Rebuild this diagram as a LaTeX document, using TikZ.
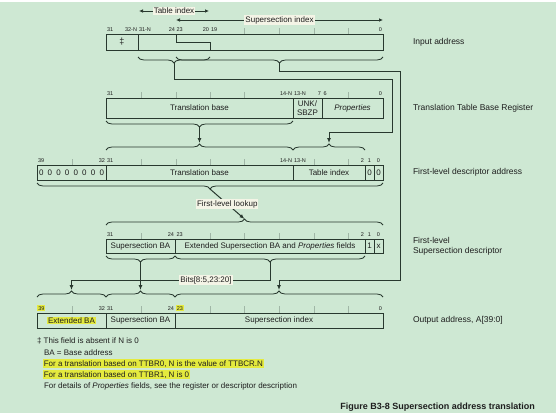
\documentclass[tikz,border=0pt]{standalone}
\usepackage{fontspec}
\setmainfont{Liberation Sans}
\usetikzlibrary{positioning,arrows.meta,decorations.pathreplacing}
\definecolor{bggreen}{RGB}{206,232,211}
\definecolor{linec}{RGB}{40,56,46}
\definecolor{tickc}{RGB}{160,182,166}
\definecolor{hiyel}{RGB}{228,234,62}
\definecolor{tagbg}{RGB}{244,244,230}
\definecolor{txt}{RGB}{30,30,30}
\newcommand{\hilite}[1]{{\setlength{\fboxsep}{0.8pt}\colorbox{hiyel}{#1}}}

\begin{document}
\begin{tikzpicture}[x=1pt,y=-1pt,
  every node/.style={font=\fontsize{8}{9}\selectfont,inner sep=0pt,outer sep=0pt,text=txt},
  field/.style={draw=linec,line width=0.8pt,anchor=center},
  bitn/.style={font=\fontsize{5.5}{6}\selectfont},
  tick/.style={draw=tickc,line width=0.5pt},
  brc/.style={draw=linec,line width=0.8pt,decorate,decoration={brace,amplitude=6pt}},
  conn/.style={draw=linec,line width=1pt,-{Latex[length=5pt,width=4pt]}},
  span/.style={draw=linec,line width=0.7pt,{Latex[length=4pt,width=3.5pt]}-{Latex[length=4pt,width=3.5pt]}},
  tag/.style={fill=tagbg,inner sep=1pt},
  side/.style={anchor=west,font=\fontsize{8.5}{10}\selectfont,align=left}]
\useasboundingbox (0,0) rectangle (560,420);
\fill[bggreen] (0,2) rectangle (556,413);

% input address
\coordinate (tiL) at (139,11);
\coordinate (tiR) at (209,11);
\draw[span] (tiL) -- (tiR) node[tag,midway] (tiLbl) {Table index};
\coordinate (ssL) at (176,20);
\coordinate (ssR) at (383,20);
\draw[span] (ssL) -- (ssR) node[tag,midway] (ssLbl) {Supersection index};
\foreach \x in {244,279,314,348} \draw[tick] (\x,28) -- (\x,34);
\node[bitn,anchor=base west] (in31) at (107,31.5) {31};
\node[bitn,anchor=base east] (in32N) at (137,31.5) {32-N};
\node[bitn,anchor=base west] (in31N) at (139,31.5) {31-N};
\node[bitn,anchor=base east] (in24) at (175,31.5) {24};
\node[bitn,anchor=base west] (in23) at (176.5,31.5) {23};
\node[bitn,anchor=base east] (in20) at (209,31.5) {20};
\node[bitn,anchor=base west] (in19) at (211,31.5) {19};
\node[bitn,anchor=base east] (in0) at (382,31.5) {0};
\node[field,minimum width=32,minimum height=16,font=\fontsize{9}{9}\selectfont] (inDag) at (122,42) {‡};
\node[field,minimum width=245,minimum height=16] (inRest) at (260.5,42) {};
\draw[draw=linec,line width=0.8pt] (176,34) -- (176,42) -- (210,42) -- (210,50);
\coordinate (tiTip) at (174,63);
\coordinate (ssTip) at (279.5,63);
\draw[brc] (210,57) -- (138,57);
\draw[brc] (383,57) -- (176,57);
\node[side] (lblIn) at (413,42) {Input address};

% translation table base register
\foreach \x in {141,176,210,244,348} \draw[tick] (\x,92) -- (\x,98);
\node[bitn,anchor=base west] (tb31) at (107,95.5) {31};
\node[bitn,anchor=base east] (tb14N) at (292,95.5) {14-N};
\node[bitn,anchor=base west] (tb13N) at (294,95.5) {13-N};
\node[bitn,anchor=base east] (tb7) at (321,95.5) {7};
\node[bitn,anchor=base west] (tb6) at (323.5,95.5) {6};
\node[bitn,anchor=base east] (tb0) at (382,95.5) {0};
\node[field,minimum width=187,minimum height=20] (ttbrBase) at (199.5,108) {Translation base};
\node[field,minimum width=29,minimum height=20,align=center,font=\fontsize{8}{8.5}\selectfont] (ttbrUnk) at (307.5,108) {UNK/\\SBZP};
\node[field,minimum width=61,minimum height=20] (ttbrProp) at (352.5,108) {\textit{Properties}};
\draw[brc] (293,121) -- (106,121);
\coordinate (ttbrTip) at (199.5,127);
\node[side] (lblTtbr) at (413,108) {Translation Table Base Register};

% first-level descriptor address
\coordinate (fdBaseTip) at (199.5,143);
\coordinate (fdIdxTip) at (329,143);
\draw[brc] (106,150) -- (293,150);
\draw[brc] (293,150) -- (365,150);
\foreach \x in {72,141,176,210,244,314,348} \draw[tick] (\x,159) -- (\x,165);
\node[bitn,anchor=base west] (fd39) at (38,162) {39};
\node[bitn,anchor=base east] (fd32) at (105,162) {32};
\node[bitn,anchor=base west] (fd31) at (107,162) {31};
\node[bitn,anchor=base east] (fd14N) at (292,162) {14-N};
\node[bitn,anchor=base west] (fd13N) at (294,162) {13-N};
\node[bitn,anchor=base east] (fd2) at (364,162) {2};
\node[bitn,anchor=base] (fd1) at (369.5,162) {1};
\node[bitn,anchor=base] (fd0) at (378.5,162) {0};
\node[field,minimum width=69,minimum height=15] (fdZero) at (71.5,172.5)
  {0\hspace{4.2pt}0\hspace{4.2pt}0\hspace{4.2pt}0\hspace{4.2pt}0\hspace{4.2pt}0\hspace{4.2pt}0\hspace{4.2pt}0};
\node[field,minimum width=187,minimum height=15] (fdBase) at (199.5,172.5) {Translation base};
\node[field,minimum width=72,minimum height=15] (fdIdx) at (329,172.5) {Table index};
\node[field,minimum width=9,minimum height=15] (fdB1) at (369.5,172.5) {0};
\node[field,minimum width=9,minimum height=15] (fdB0) at (378.5,172.5) {0};
\draw[brc] (383,183) -- (37,183);
\coordinate (fdTip) at (210,189);
\node[side] (lblFd) at (413,172.5) {First-level descriptor address};

% first-level supersection descriptor
\coordinate (sdTip) at (244.5,219);
\draw[brc] (106,225) -- (383,225);
\foreach \x in {141,210,244,279,314,348} \draw[tick] (\x,233) -- (\x,239);
\node[bitn,anchor=base west] (sd31) at (107,236) {31};
\node[bitn,anchor=base east] (sd24) at (174,236) {24};
\node[bitn,anchor=base west] (sd23) at (176.5,236) {23};
\node[bitn,anchor=base east] (sd2) at (364,236) {2};
\node[bitn,anchor=base] (sd1) at (369.5,236) {1};
\node[bitn,anchor=base] (sd0) at (378.5,236) {0};
\node[field,minimum width=69,minimum height=14] (sdBA) at (140.5,246) {Supersection BA};
\node[field,minimum width=190,minimum height=14] (sdExt) at (270,246) {Extended Supersection BA and \textit{Properties} fields};
\node[field,minimum width=9,minimum height=14] (sdB1) at (369.5,246) {1};
\node[field,minimum width=9,minimum height=14] (sdB0) at (378.5,246) {x};
\draw[brc] (175,256) -- (106,256);
\draw[brc] (365,256) -- (175,256);
\coordinate (sdBATip) at (140.5,262);
\coordinate (sdExtTip) at (270,262);
\node[side] (lblSd) at (413,246.5) {First-level\\Supersection descriptor};

% output address
\coordinate (oaExtTip) at (71.5,290);
\coordinate (oaBATip) at (140.5,290);
\coordinate (oaIdxTip) at (279,290);
\draw[brc] (37,297) -- (106,297);
\draw[brc] (106,297) -- (175,297);
\draw[brc] (175,297) -- (383,297);
\foreach \x in {72,141,210,244,279,314,348} \draw[tick] (\x,306) -- (\x,313);
\node[bitn,anchor=base west] (oa39) at (37.5,310) {\hilite{39}};
\node[bitn,anchor=base east] (oa32) at (105,310) {32};
\node[bitn,anchor=base west] (oa31) at (107,310) {31};
\node[bitn,anchor=base east] (oa24) at (174,310) {24};
\node[bitn,anchor=base west] (oa23) at (176,310) {\hilite{23}};
\node[bitn,anchor=base east] (oa0) at (382,310) {0};
\node[field,minimum width=69,minimum height=15] (oaExt) at (71.5,320.5) {\hilite{Extended BA}};
\node[field,minimum width=69,minimum height=15] (oaBA) at (140.5,320.5) {Supersection BA};
\node[field,minimum width=208,minimum height=15] (oaIdx) at (279,320.5) {Supersection index};
\node[side] (lblOa) at (413,320.5) {Output address, A[39:0]};

% connectors
\coordinate (turnA) at (392,80);
\coordinate (idxBend) at (329,132);
\draw[conn] (tiTip) |- (turnA) |- (idxBend) -- (fdIdxTip);
\coordinate (turnB) at (400,72);
\coordinate (oaBend) at (279,280);
\draw[conn] (ssTip) |- (turnB) |- (oaBend) -- (oaIdxTip);
\draw[conn] (ttbrTip) -- (fdBaseTip);
\draw[conn] (fdTip) -- (sdTip) node[tag,midway] (lookLbl) {First-level lookup};
\draw[conn] (sdBATip) -- (oaBATip);
\coordinate (extBend) at (71.5,280);
\draw[conn] (sdExtTip) |- (extBend) -- (oaExtTip);
\node[tag] (bitsLbl) at (206,280) {Bits[8:5,23:20]};

% notes
\node[anchor=base west] (note1) at (37,343) {‡ This field is absent if N is 0};
\node[anchor=base west] (note2) at (44,355) {BA = Base address};
\node[anchor=base west] (note3) at (43,366) {\hilite{For a translation based on TTBR0, N is the value of TTBCR.N}};
\node[anchor=base west] (note4) at (43,377) {\hilite{For a translation based on TTBR1, N is 0}};
\node[anchor=base west] (note5) at (44,388) {For details of \textit{Properties} fields, see the register or descriptor description};
\node[anchor=base east,font=\fontsize{9}{10}\selectfont\bfseries] (caption) at (535,409) {Figure B3-8 Supersection address translation};
\end{tikzpicture}
\end{document}
